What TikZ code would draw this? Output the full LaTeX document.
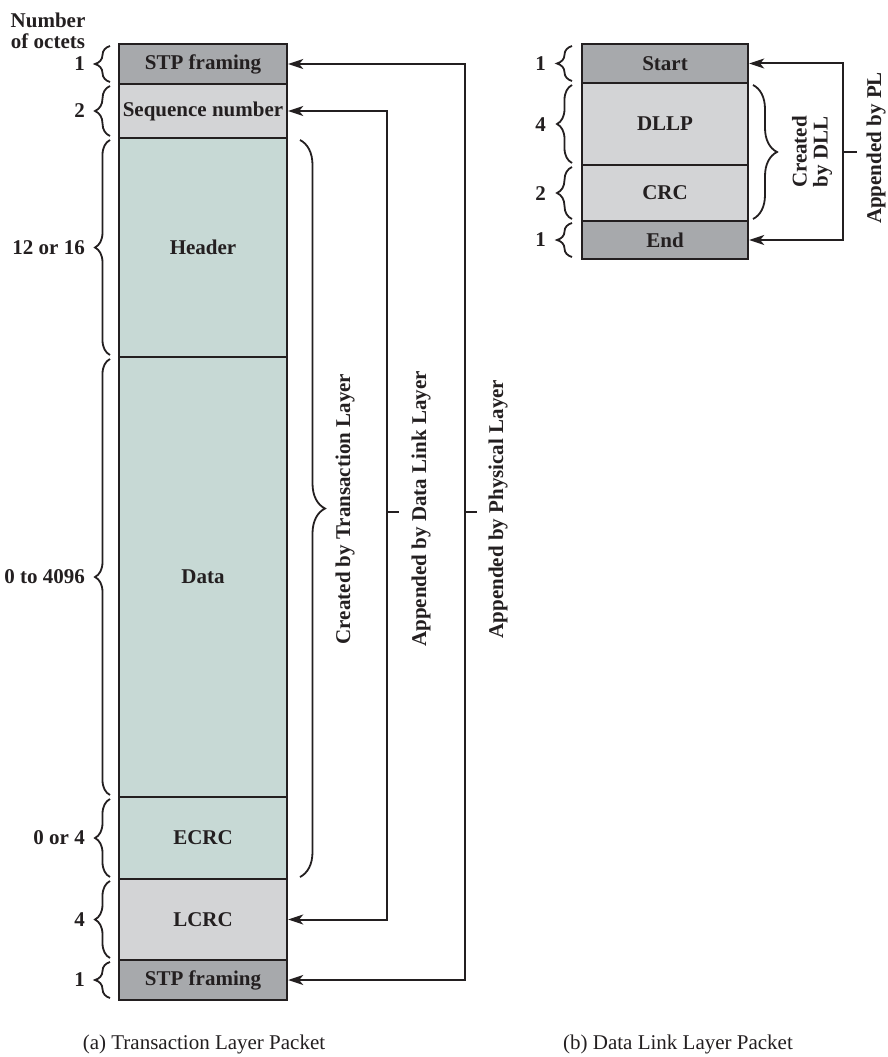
\documentclass[tikz,border=0pt]{standalone}
\usepackage{fontspec}
\setmainfont{Liberation Serif}
\usetikzlibrary{decorations.pathreplacing,arrows.meta}
\definecolor{ink}{HTML}{231F20}
\definecolor{dgray}{HTML}{A7A9AC}
\definecolor{lgray}{HTML}{D3D4D6}
\definecolor{tealgray}{HTML}{C7D9D5}
\tikzset{myhead/.tip={Stealth[length=15pt,width=10pt,inset=4pt]}}
\begin{document}
\begin{tikzpicture}[x=1pt,y=-1pt,
  lbl/.style={text=ink,font=\fontsize{21}{21}\selectfont\bfseries,inner sep=0pt},
  captxt/.style={text=ink,font=\fontsize{21}{23}\selectfont,inner sep=0pt},
  cellA/.style={draw=ink,line width=2.4pt,minimum width=168pt,inner sep=0pt,lbl},
  cellB/.style={draw=ink,line width=2.4pt,minimum width=166pt,inner sep=0pt,lbl},
  brc/.style={draw=ink,line width=1.8pt,decorate,decoration={brace,amplitude=15pt}},
  bigbrc/.style={draw=ink,line width=1.8pt,decorate,decoration={brace,amplitude=25pt}},
  arr/.style={draw=ink,line width=2pt,arrows={myhead-myhead}},
  tickline/.style={draw=ink,line width=2pt}]
\useasboundingbox (0,0) rectangle (887,1057);

% ---------- (a) Transaction Layer Packet ----------
\node[lbl,align=center] (hd) at (48,31) {Number\\of octets};

\node[cellA,fill=dgray,minimum height=40pt] (stp1) at (203,64) {STP framing};
\node[cellA,fill=lgray,minimum height=54pt] (seq) at (203,111) {Sequence number};
\node[cellA,fill=tealgray,minimum height=219pt] (hdr) at (203,247.5) {Header};
\node[cellA,fill=tealgray,minimum height=440pt] (data) at (203,577) {Data};
\node[cellA,fill=tealgray,minimum height=82pt] (ecrc) at (203,838) {ECRC};
\node[cellA,fill=lgray,minimum height=81pt] (lcrc) at (203,919.5) {LCRC};
\node[cellA,fill=dgray,minimum height=40pt] (stp2) at (203,980) {STP framing};

% octet counts
\node[lbl,anchor=east] (n1) at (85,64) {1};
\node[lbl,anchor=east] (n2) at (85,111) {2};
\node[lbl,anchor=east] (n3) at (85,248) {12 or 16};
\node[lbl,anchor=east] (n4) at (85,577) {0 to 4096};
\node[lbl,anchor=east] (n5) at (85,838) {0 or 4};
\node[lbl,anchor=east] (n6) at (85,920) {4};
\node[lbl,anchor=east] (n7) at (85,980) {1};

\draw[brc] (110,82) -- (110,46);
\draw[brc] (110,136) -- (110,86);
\draw[brc] (110,355) -- (110,140);
\draw[brc] (110,795) -- (110,359);
\draw[brc] (110,877) -- (110,799);
\draw[brc] (110,958) -- (110,881);
\draw[brc] (110,998) -- (110,962);

% right-hand annotations
\draw[bigbrc] (300,140) -- (300,877);
\node[lbl,rotate=90] (t1) at (345,509) {Created by Transaction Layer};

\coordinate (dll) at (387,512);
\draw[arr] (seq.east) -| (dll) |- (lcrc.east);
\draw[tickline] (dll) -- ++(12,0);
\node[lbl,rotate=90] (t2) at (421,509) {Appended by Data Link Layer};

\coordinate (phy) at (465,512);
\draw[arr] (stp1.east) -| (phy) |- (stp2.east);
\draw[tickline] (phy) -- ++(12,0);
\node[lbl,rotate=90] (t3) at (498,509) {Appended by Physical Layer};

\node[captxt] (capa) at (204,1044) {(a) Transaction Layer Packet};

% ---------- (b) Data Link Layer Packet ----------
\node[cellB,fill=dgray,minimum height=39pt] (start) at (665,63.5) {Start};
\node[cellB,fill=lgray,minimum height=82pt] (dllp) at (665,124) {DLLP};
\node[cellB,fill=lgray,minimum height=56pt] (crc) at (665,193) {CRC};
\node[cellB,fill=dgray,minimum height=38pt] (end) at (665,240) {End};

\node[lbl,anchor=east] (m1) at (546,64) {1};
\node[lbl,anchor=east] (m2) at (546,125) {4};
\node[lbl,anchor=east] (m3) at (546,194) {2};
\node[lbl,anchor=east] (m4) at (546,240) {1};

\draw[brc] (572,81) -- (572,46);
\draw[brc] (572,163) -- (572,85);
\draw[brc] (572,219) -- (572,167);
\draw[brc] (572,257) -- (572,223);

\draw[draw=ink,line width=1.8pt,decorate,decoration={brace,amplitude=24pt}] (753,85) -- (753,219);
\node[lbl,rotate=90,align=center] (t4) at (812,152) {Created\\by DLL};

\coordinate (pl) at (843,152);
\draw[arr] (start.east) -| (pl) |- (end.east);
\draw[tickline] (pl) -- ++(14,0);
\node[lbl,rotate=90] (t5) at (876,148) {Appended by PL};

\node[captxt] (capb) at (678,1044) {(b) Data Link Layer Packet};
\end{tikzpicture}
\end{document}
